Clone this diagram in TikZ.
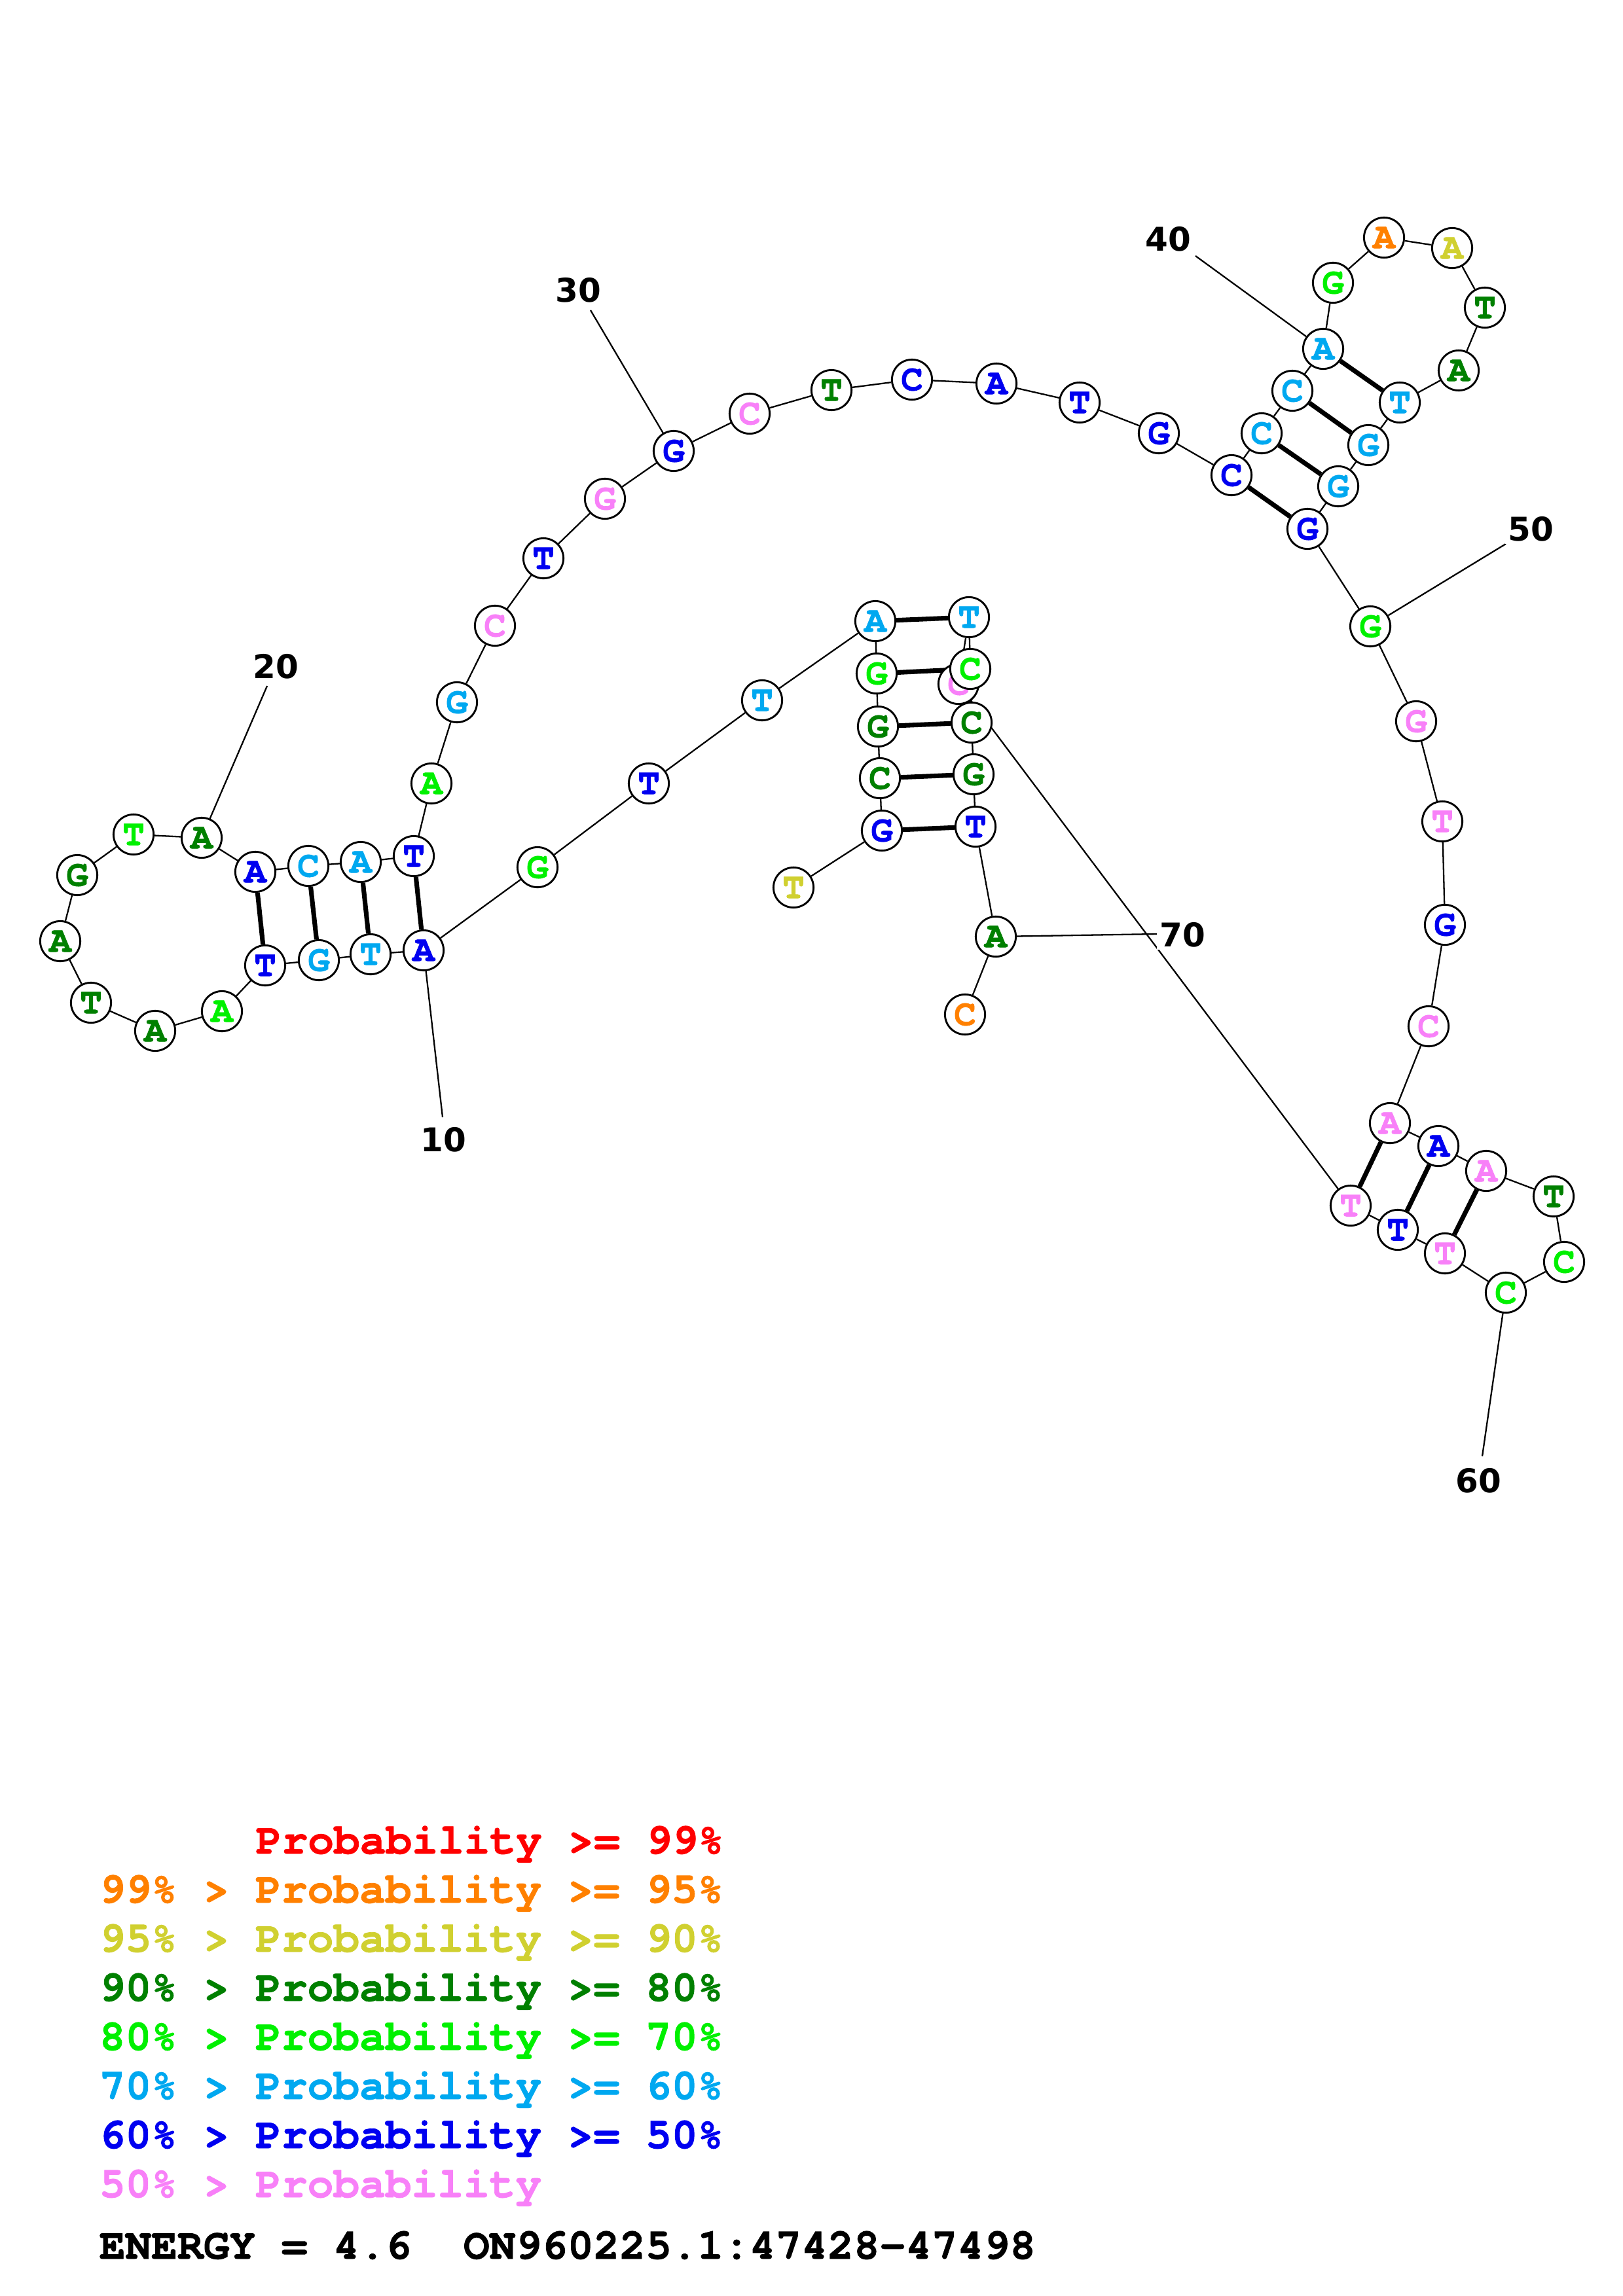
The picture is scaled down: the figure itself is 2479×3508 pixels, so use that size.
\documentclass[tikz,border=0pt]{standalone}
\usepackage{fontspec}
\setmonofont{texgyrecursor}[Extension=.otf,UprightFont=*-regular,BoldFont=*-bold,BoldFeatures={FakeBold=1.2}]
\newfontfamily\numfont{DejaVu Sans}
\definecolor{cR}{RGB}{255,0,0}
\definecolor{cO}{RGB}{255,128,0}
\definecolor{cY}{RGB}{208,208,48}
\definecolor{cDG}{RGB}{0,128,0}
\definecolor{cLG}{RGB}{0,240,0}
\definecolor{cLB}{RGB}{0,168,240}
\definecolor{cB}{RGB}{0,0,240}
\definecolor{cP}{RGB}{248,128,248}
\pgfdeclarelayer{bg}
\pgfsetlayers{bg,main}
\begin{document}
\begin{tikzpicture}[x=0.24013pt,y=-0.24013pt,
  nt/.style={circle,draw=black,line width=0.7pt,fill=white,minimum size=14.7pt,inner sep=0pt,
    font=\fontsize{13.5}{13.5}\selectfont\ttfamily\bfseries},
  bb/.style={line width=0.55pt},
  bp/.style={line width=1.7pt},
  lab/.style={font=\fontsize{12}{12}\selectfont\numfont\bfseries,fill=white,inner sep=1pt},
  leg/.style={anchor=base west,inner sep=0pt,font=\fontsize{15.9}{15.9}\selectfont\ttfamily\bfseries}]
\useasboundingbox (0,0) rectangle (2479,3508);
\foreach \i/\x/\y/\l/\c in {
 1/1212/1356/T/cY, 2/1347/1269/G/cB, 3/1344/1189/C/cDG, 4/1341/1110/G/cDG,
 5/1339/1029/G/cLG, 6/1337/949/A/cLB, 7/1164/1070/T/cLB, 8/991/1197/T/cB,
 9/821/1325/G/cLG, 10/647/1452/A/cB, 11/566/1458/T/cLB, 12/487/1467/G/cLB,
 13/405/1475/T/cB, 14/339/1545/A/cLG, 15/237/1575/A/cDG, 16/139/1532/T/cDG,
 17/92/1438/A/cDG, 18/118/1337/G/cDG, 19/204/1275/T/cLG, 20/308/1280/A/cDG,
 21/390/1332/A/cB, 22/471/1323/C/cLB, 23/551/1317/A/cLB, 24/632/1308/T/cB,
 25/659/1197/A/cLG, 26/698/1073/G/cLB, 27/756/956/C/cP, 28/830/853/T/cB,
 29/924/762/G/cP, 30/1029/689/G/cB, 31/1145/632/C/cP, 32/1270/596/T/cDG,
 33/1393/580/C/cB, 34/1522/586/A/cB, 35/1649/615/T/cB, 36/1770/662/G/cB,
 37/1881/726/C/cB, 38/1927/662/C/cLB, 39/1974/597/C/cLB, 40/2021/533/A/cLB,
 41/2036/432/G/cLG, 42/2114/363/A/cO, 43/2218/379/A/cY, 44/2268/470/T/cDG,
 45/2228/566/A/cDG, 46/2138/615/T/cLB, 47/2090/680/G/cLB, 48/2044/743/G/cLB,
 49/1997/808/G/cB, 50/2093/957/G/cLG, 51/2163/1102/G/cP, 52/2203/1255/T/cP,
 53/2207/1413/G/cB, 54/2182/1568/C/cP, 55/2123/1716/A/cP, 56/2197/1751/A/cB,
 57/2270/1789/A/cP, 58/2373/1828/T/cDG, 59/2389/1928/C/cLG, 60/2300/1975/C/cLG,
 61/2207/1915/T/cP, 62/2135/1879/T/cB, 63/2063/1842/T/cP, 64/1464/1045/C/cP,
 65/1480/943/T/cLB, 66/1482/1022/C/cLG, 67/1484/1104/C/cDG, 68/1487/1183/G/cDG,
 69/1490/1263/T/cB, 70/1521/1431/A/cDG, 71/1474/1550/C/cO}
 {\node[nt,text=\c] (n\i) at (\x,\y) {\l};}
% number labels
\node[lab] (t10) at (677,1741) {10};
\node[lab] (t20) at (421,1018) {20};
\node[lab] (t30) at (883,443) {30};
\node[lab] (t40) at (1784,365) {40};
\node[lab] (t50) at (2338,808) {50};
\node[lab] (t60) at (2258,2262) {60};
\node[lab] (t70) at (1806,1428) {70};
\coordinate (c10) at (676,1707);
\coordinate (c20) at (408,1048);
\coordinate (c30) at (902,474);
\coordinate (c40) at (1826,391);
\coordinate (c50) at (2300,831);
\coordinate (c60) at (2264,2225);
\coordinate (c70) at (1767,1427);
\begin{pgfonlayer}{bg}
 \fill[white] (0,0) rectangle (2479,3508);
 \foreach \i in {1,...,70} {\pgfmathtruncatemacro\j{\i+1}\draw[bb] (n\i) -- (n\j);}
 \foreach \a/\b in {2/69,3/68,4/67,5/66,6/65,10/24,11/23,12/22,13/21,37/49,38/48,39/47,40/46,55/63,56/62,57/61}
  {\draw[bp] (n\a) -- (n\b);}
 \foreach \k in {10,20,30,40,50,60,70} {\draw[bb] (n\k) -- (c\k);}
\end{pgfonlayer}
% legend
\node[leg,text=cR] (lg1) at (390,2832) {Probability >= 99\%};
\node[leg,text=cO] (lg2) at (151,2907) {99\% > Probability >= 95\%};
\node[leg,text=cY] (lg3) at (151,2982) {95\% > Probability >= 90\%};
\node[leg,text=cDG] (lg4) at (151,3057) {90\% > Probability >= 80\%};
\node[leg,text=cLG] (lg5) at (151,3132) {80\% > Probability >= 70\%};
\node[leg,text=cLB] (lg6) at (151,3207) {70\% > Probability >= 60\%};
\node[leg,text=cB] (lg7) at (151,3282) {60\% > Probability >= 50\%};
\node[leg,text=cP] (lg8) at (151,3357) {50\% > Probability};
\node[leg,text=black] (en) at (151,3451) {ENERGY = 4.6\ \ ON960225.1:47428-47498};
\end{tikzpicture}
\end{document}
